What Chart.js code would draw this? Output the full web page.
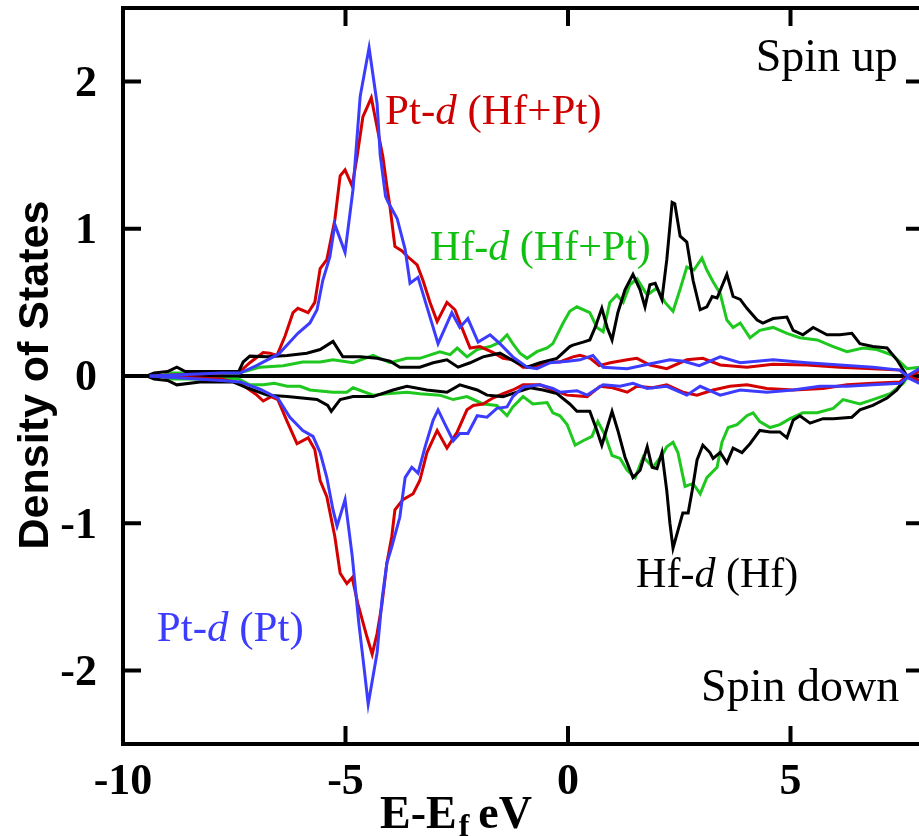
<!DOCTYPE html>
<html>
<head>
<meta charset="utf-8">
<title>Density of States - HfPt</title>
<script src="https://cdn.jsdelivr.net/npm/chart.js@4.4.0/dist/chart.umd.min.js"></script>
<style>
  html, body { margin: 0; padding: 0; background: #fff; overflow: hidden; }
  #wrap { width: 930px; height: 836px; }
</style>
</head>
<body>
<div id="wrap"><canvas id="dosChart" width="930" height="836"></canvas></div>
<script>
'use strict';

// axis ticks
const xTicks = [-10, -5, 0, 5];
const yTicks = [-2, -1, 0, 1, 2];

// [E - Ef (eV), DOS]
const ptdHfPtUp = [[-9.40,0.00],[-7.80,0.02],[-7.37,0.03],[-7.15,0.09],[-6.85,0.16],[-6.70,0.155],[-6.54,0.14],[-6.36,0.27],[-6.18,0.43],[-6.07,0.46],[-5.84,0.43],[-5.69,0.50],[-5.57,0.73],[-5.42,0.79],[-5.24,1.06],[-5.12,1.36],[-5.01,1.40],[-4.85,1.29],[-4.74,1.49],[-4.61,1.76],[-4.42,1.89],[-4.29,1.69],[-4.16,1.49],[-4.07,1.29],[-4.00,1.15],[-3.89,0.88],[-3.73,0.85],[-3.60,0.81],[-3.39,0.755],[-3.26,0.65],[-3.10,0.50],[-2.94,0.37],[-2.72,0.50],[-2.54,0.45],[-2.36,0.31],[-2.20,0.19],[-1.98,0.20],[-1.69,0.16],[-1.46,0.12],[-1.24,0.11],[-1.01,0.06],[-0.79,0.06],[-0.47,0.095],[-0.18,0.095],[0.11,0.13],[0.27,0.14],[0.50,0.12],[0.70,0.07],[0.95,0.09],[1.33,0.11],[1.55,0.12],[1.84,0.075],[2.22,0.05],[2.67,0.11],[3.03,0.12],[3.42,0.075],[4.02,0.06],[4.61,0.08],[5.37,0.075],[6.11,0.06],[6.85,0.05],[7.46,0.04],[7.62,0.00],[7.90,0.03]];
const ptdHfPtDn = [[-9.40,0.00],[-7.80,-0.02],[-7.37,-0.05],[-6.99,-0.13],[-6.85,-0.17],[-6.67,-0.14],[-6.52,-0.16],[-6.31,-0.31],[-6.09,-0.46],[-5.84,-0.42],[-5.69,-0.50],[-5.57,-0.71],[-5.42,-0.82],[-5.24,-1.09],[-5.12,-1.34],[-4.97,-1.41],[-4.85,-1.37],[-4.72,-1.55],[-4.52,-1.77],[-4.40,-1.89],[-4.29,-1.75],[-4.18,-1.55],[-4.07,-1.27],[-3.96,-1.09],[-3.89,-0.91],[-3.71,-0.84],[-3.48,-0.80],[-3.33,-0.71],[-3.17,-0.52],[-2.94,-0.37],[-2.72,-0.49],[-2.49,-0.38],[-2.27,-0.23],[-2.13,-0.20],[-1.91,-0.19],[-1.69,-0.15],[-1.46,-0.12],[-1.24,-0.095],[-1.01,-0.06],[-0.63,-0.06],[-0.34,-0.095],[-0.02,-0.13],[0.43,-0.14],[0.72,-0.07],[1.00,-0.08],[1.33,-0.11],[1.55,-0.07],[1.90,-0.08],[2.22,-0.06],[2.58,-0.11],[2.90,-0.13],[3.26,-0.095],[3.64,-0.07],[4.02,-0.06],[4.47,-0.085],[5.06,-0.095],[5.73,-0.085],[6.27,-0.06],[6.85,-0.05],[7.46,-0.04],[7.62,0.00],[7.90,-0.03]];

const ptdPtUp = [[-9.40,0.00],[-7.80,0.02],[-7.37,0.02],[-7.00,0.07],[-6.50,0.15],[-6.07,0.29],[-5.80,0.36],[-5.64,0.45],[-5.51,0.65],[-5.35,0.81],[-5.24,1.03],[-5.01,0.84],[-4.83,1.27],[-4.67,1.90],[-4.47,2.23],[-4.29,1.85],[-4.22,1.50],[-4.10,1.22],[-4.04,1.18],[-3.84,1.07],[-3.66,0.86],[-3.55,0.63],[-3.37,0.67],[-3.17,0.47],[-2.92,0.22],[-2.61,0.43],[-2.43,0.33],[-2.25,0.39],[-2.02,0.23],[-1.75,0.28],[-1.53,0.22],[-1.24,0.13],[-0.92,0.06],[-0.70,0.05],[-0.40,0.09],[0.00,0.10],[0.27,0.11],[0.56,0.14],[0.79,0.06],[1.33,0.05],[1.80,0.08],[2.29,0.11],[2.60,0.10],[2.95,0.07],[3.42,0.13],[3.87,0.09],[4.61,0.11],[5.37,0.09],[6.11,0.075],[6.85,0.06],[7.46,0.04],[7.62,0.00],[7.90,0.05]];
const ptdPtDn = [[-9.40,0.00],[-7.80,-0.03],[-7.37,-0.04],[-6.92,-0.09],[-6.52,-0.15],[-6.25,-0.28],[-5.96,-0.37],[-5.73,-0.41],[-5.57,-0.52],[-5.42,-0.69],[-5.28,-0.91],[-5.19,-1.02],[-5.01,-0.84],[-4.85,-1.22],[-4.70,-1.68],[-4.58,-1.99],[-4.49,-2.23],[-4.29,-1.88],[-4.18,-1.52],[-4.07,-1.27],[-3.96,-1.16],[-3.78,-0.96],[-3.66,-0.69],[-3.51,-0.62],[-3.37,-0.66],[-3.21,-0.48],[-3.03,-0.30],[-2.92,-0.23],[-2.76,-0.33],[-2.58,-0.44],[-2.43,-0.39],[-2.25,-0.39],[-2.04,-0.27],[-1.82,-0.28],[-1.60,-0.22],[-1.37,-0.21],[-1.24,-0.14],[-1.01,-0.075],[-0.63,-0.06],[-0.34,-0.085],[-0.18,-0.11],[0.20,-0.10],[0.43,-0.13],[0.79,-0.06],[1.17,-0.07],[1.46,-0.05],[1.78,-0.085],[2.22,-0.07],[2.67,-0.13],[2.97,-0.07],[3.42,-0.13],[3.87,-0.095],[4.47,-0.11],[5.06,-0.095],[5.66,-0.07],[6.27,-0.07],[6.85,-0.06],[7.46,-0.05],[7.62,-0.01],[7.90,-0.05]];

const hfdHfPtUp = [[-9.10,0.00],[-9.00,0.02],[-7.40,0.02],[-7.15,0.04],[-6.92,0.06],[-6.40,0.07],[-5.96,0.095],[-5.57,0.095],[-5.28,0.11],[-4.83,0.09],[-4.38,0.14],[-4.00,0.09],[-3.62,0.12],[-3.33,0.12],[-2.88,0.165],[-2.65,0.145],[-2.49,0.19],[-2.27,0.13],[-2.04,0.18],[-1.75,0.20],[-1.53,0.23],[-1.37,0.28],[-1.24,0.22],[-1.08,0.155],[-0.92,0.12],[-0.70,0.165],[-0.47,0.19],[-0.34,0.22],[-0.11,0.36],[0.04,0.44],[0.20,0.47],[0.49,0.43],[0.65,0.33],[0.79,0.30],[0.94,0.50],[1.10,0.55],[1.24,0.50],[1.39,0.62],[1.55,0.66],[1.78,0.55],[2.00,0.60],[2.18,0.50],[2.36,0.44],[2.52,0.59],[2.67,0.74],[2.83,0.72],[3.01,0.80],[3.12,0.72],[3.26,0.64],[3.42,0.56],[3.57,0.38],[3.71,0.33],[3.87,0.36],[4.09,0.26],[4.31,0.31],[4.61,0.33],[4.92,0.29],[5.21,0.26],[5.60,0.245],[5.96,0.20],[6.27,0.165],[6.63,0.19],[6.94,0.18],[7.30,0.14],[7.62,0.05],[7.90,0.06]];
const hfdHfPtDn = [[-9.10,0.00],[-9.00,-0.02],[-7.40,-0.02],[-7.15,-0.06],[-6.85,-0.06],[-6.60,-0.05],[-6.31,-0.07],[-6.02,-0.07],[-5.80,-0.095],[-5.28,-0.11],[-4.97,-0.11],[-4.83,-0.08],[-4.38,-0.13],[-4.07,-0.12],[-3.62,-0.11],[-3.33,-0.12],[-2.88,-0.13],[-2.58,-0.16],[-2.27,-0.14],[-1.91,-0.19],[-1.60,-0.20],[-1.37,-0.27],[-1.24,-0.21],[-1.01,-0.14],[-0.79,-0.19],[-0.47,-0.18],[-0.34,-0.25],[-0.18,-0.27],[-0.02,-0.33],[0.16,-0.47],[0.34,-0.44],[0.54,-0.41],[0.67,-0.31],[0.83,-0.40],[0.99,-0.54],[1.17,-0.56],[1.33,-0.64],[1.51,-0.69],[1.69,-0.55],[1.91,-0.62],[2.11,-0.54],[2.22,-0.48],[2.36,-0.45],[2.47,-0.52],[2.63,-0.75],[2.81,-0.73],[2.97,-0.80],[3.12,-0.69],[3.35,-0.62],[3.46,-0.45],[3.60,-0.35],[3.80,-0.33],[4.02,-0.27],[4.16,-0.25],[4.31,-0.31],[4.54,-0.35],[4.76,-0.33],[4.99,-0.29],[5.28,-0.25],[5.60,-0.25],[5.96,-0.22],[6.18,-0.16],[6.56,-0.19],[6.85,-0.16],[7.24,-0.12],[7.53,-0.05],[7.62,-0.01],[7.90,-0.03]];

const hfdHfUp = [[-9.46,0.00],[-9.30,0.02],[-9.00,0.03],[-8.79,0.06],[-8.60,0.03],[-7.40,0.03],[-7.30,0.095],[-7.15,0.135],[-6.76,0.13],[-6.31,0.14],[-5.87,0.155],[-5.57,0.18],[-5.28,0.235],[-5.06,0.13],[-4.67,0.13],[-4.29,0.12],[-4.00,0.10],[-3.78,0.06],[-3.33,0.06],[-3.03,0.09],[-2.72,0.11],[-2.47,0.06],[-2.20,0.09],[-1.91,0.13],[-1.53,0.155],[-1.15,0.09],[-0.92,0.06],[-0.63,0.09],[-0.25,0.12],[0.04,0.20],[0.11,0.21],[0.34,0.23],[0.49,0.245],[0.61,0.33],[0.76,0.46],[0.88,0.33],[0.99,0.245],[1.12,0.43],[1.28,0.585],[1.46,0.69],[1.62,0.585],[1.73,0.47],[1.84,0.62],[1.96,0.63],[2.11,0.52],[2.22,0.79],[2.34,1.18],[2.40,1.17],[2.52,0.95],[2.67,0.91],[2.81,0.65],[2.97,0.45],[3.12,0.47],[3.24,0.54],[3.35,0.53],[3.57,0.69],[3.71,0.54],[3.87,0.52],[4.02,0.46],[4.25,0.38],[4.38,0.36],[4.61,0.39],[4.92,0.40],[5.06,0.31],[5.28,0.28],[5.51,0.33],[5.82,0.28],[6.11,0.28],[6.38,0.29],[6.56,0.22],[6.85,0.20],[7.17,0.19],[7.39,0.11],[7.62,0.00]];
const hfdHfDn = [[-9.46,0.00],[-9.30,-0.02],[-9.00,-0.03],[-8.79,-0.06],[-8.27,-0.04],[-7.53,-0.04],[-7.21,-0.08],[-6.76,-0.13],[-6.31,-0.14],[-5.64,-0.16],[-5.40,-0.20],[-5.32,-0.24],[-5.12,-0.16],[-4.83,-0.14],[-4.38,-0.14],[-3.93,-0.095],[-3.62,-0.07],[-3.17,-0.095],[-2.72,-0.11],[-2.43,-0.06],[-2.04,-0.095],[-1.82,-0.13],[-1.46,-0.14],[-1.15,-0.11],[-0.85,-0.08],[-0.56,-0.095],[-0.25,-0.12],[0.04,-0.19],[0.20,-0.24],[0.49,-0.24],[0.65,-0.37],[0.76,-0.47],[0.88,-0.35],[0.99,-0.24],[1.12,-0.37],[1.28,-0.55],[1.46,-0.69],[1.62,-0.64],[1.78,-0.48],[1.89,-0.62],[2.00,-0.63],[2.11,-0.52],[2.22,-0.78],[2.29,-1.00],[2.36,-1.17],[2.47,-1.05],[2.58,-0.93],[2.70,-0.93],[2.79,-0.78],[2.90,-0.57],[3.03,-0.47],[3.19,-0.52],[3.26,-0.56],[3.42,-0.52],[3.57,-0.59],[3.71,-0.49],[3.91,-0.52],[4.09,-0.46],[4.31,-0.37],[4.54,-0.38],[4.76,-0.38],[4.92,-0.42],[5.06,-0.30],[5.21,-0.27],[5.44,-0.32],[5.73,-0.29],[5.96,-0.29],[6.38,-0.28],[6.56,-0.23],[6.85,-0.20],[7.17,-0.15],[7.39,-0.095],[7.62,0.00]];

const RED = '#d40000';
const BLUE = '#3c3cff';
const GREEN = '#1ec81e';
const BLACK = '#000000';

const SERIF = '"Liberation Serif", "Times New Roman", serif';
const SANS = '"Liberation Sans", Arial, sans-serif';

// in-plot labels, anchored in data units (left end, baseline)
const annotations = [
  { parts: [['Pt-', 0], ['d', 1], [' (Hf+Pt)', 0]], e: -4.11, dos: 1.714, color: '#cc0000', size: 43 },
  { parts: [['Hf-', 0], ['d', 1], [' (Hf+Pt)', 0]], e: -3.10, dos: 0.789, color: '#10c010', size: 42 },
  { parts: [['Hf-', 0], ['d', 1], [' (Hf)', 0]], e: 1.53, dos: -1.435, color: BLACK, size: 42 },
  { parts: [['Pt-', 0], ['d', 1], [' (Pt)', 0]], e: -9.24, dos: -1.80, color: '#3c3cff', size: 43 },
  { parts: [['Spin up', 0]], e: 4.22, dos: 2.07, color: BLACK, size: 46 },
  { parts: [['Spin down', 0]], e: 2.99, dos: -2.21, color: BLACK, size: 46 }
];

function toXY(arr) {
  return arr.map(p => ({ x: p[0], y: p[1] }));
}

function line(data, color) {
  return {
    data: toXY(data),
    borderColor: color,
    borderWidth: 3,
    pointRadius: 0,
    tension: 0,
    fill: false
  };
}

const framePlugin = {
  id: 'frame',
  beforeDatasetsDraw(chart) {
    const { ctx, chartArea: a, scales: { y } } = chart;
    const y0 = y.getPixelForValue(0);
    ctx.save();
    ctx.strokeStyle = BLACK;
    ctx.lineWidth = 4;
    ctx.beginPath();
    ctx.moveTo(a.left, y0);
    ctx.lineTo(a.right, y0);
    ctx.stroke();
    ctx.restore();
  },
  afterDatasetsDraw(chart) {
    const { ctx, chartArea: a, scales: { x, y } } = chart;
    const len = 18;
    ctx.save();
    ctx.strokeStyle = BLACK;
    ctx.lineWidth = 4;
    ctx.strokeRect(a.left, a.top, a.right - a.left, a.bottom - a.top);
    ctx.beginPath();
    xTicks.forEach(v => {
      if (v <= x.min || v >= x.max) return;
      const px = x.getPixelForValue(v);
      ctx.moveTo(px, a.bottom); ctx.lineTo(px, a.bottom - len);
      ctx.moveTo(px, a.top); ctx.lineTo(px, a.top + len);
    });
    yTicks.forEach(v => {
      if (v === 0) return;
      const py = y.getPixelForValue(v);
      ctx.moveTo(a.left, py); ctx.lineTo(a.left + len, py);
      ctx.moveTo(a.right, py); ctx.lineTo(a.right - len, py);
    });
    ctx.stroke();
    ctx.restore();
  },
  afterDraw(chart) {
    const { ctx, scales: { x, y } } = chart;
    ctx.save();
    ctx.textBaseline = 'alphabetic';
    ctx.textAlign = 'left';

    annotations.forEach(an => {
      let px = x.getPixelForValue(an.e);
      const py = y.getPixelForValue(an.dos);
      ctx.fillStyle = an.color;
      an.parts.forEach(([txt, italic]) => {
        ctx.font = (italic ? 'italic ' : '') + an.size + 'px ' + SERIF;
        ctx.fillText(txt, px, py);
        px += ctx.measureText(txt).width;
      });
    });

    // y axis title
    ctx.fillStyle = BLACK;
    ctx.font = 'bold 43px ' + SANS;
    ctx.save();
    ctx.translate(48, 375);
    ctx.rotate(-Math.PI / 2);
    ctx.textAlign = 'center';
    ctx.fillText('Density of States', 0, 0);
    ctx.restore();

    // x axis title with subscript f
    let tx = 380;
    const base = 828;
    ctx.font = 'bold 46px ' + SERIF;
    ctx.fillText('E-E', tx, base);
    tx += ctx.measureText('E-E').width + 2;
    ctx.font = 'bold 32px ' + SERIF;
    ctx.fillText('f', tx, base + 8);
    tx += ctx.measureText('f').width + 9;
    ctx.font = 'bold 46px ' + SERIF;
    ctx.fillText('eV', tx, base);
    ctx.restore();
  }
};

new Chart(document.getElementById('dosChart'), {
  type: 'line',
  data: {
    datasets: [
      line(ptdPtUp, BLUE),
      line(ptdPtDn, BLUE),
      line(hfdHfUp, BLACK),
      line(hfdHfDn, BLACK),
      line(ptdHfPtUp, RED),
      line(ptdHfPtDn, RED),
      line(hfdHfPtUp, GREEN),
      line(hfdHfPtDn, GREEN)
    ]
  },
  options: {
    responsive: false,
    animation: false,
    devicePixelRatio: 1,
    layout: { padding: { left: 0, right: 6, top: 8, bottom: 0 } },
    plugins: { legend: { display: false }, tooltip: { enabled: false } },
    scales: {
      x: {
        type: 'linear',
        min: -10,
        max: 8,
        afterFit: s => { s.height = 92; s.paddingLeft = 0; s.paddingRight = 0; },
        afterBuildTicks: s => { s.ticks = xTicks.map(v => ({ value: v })); },
        grid: { display: false, drawTicks: false },
        border: { display: false },
        ticks: {
          padding: 12,
          maxRotation: 0,
          color: BLACK,
          font: { family: SERIF, size: 44, weight: 'bold' }
        }
      },
      y: {
        type: 'linear',
        min: -2.5,
        max: 2.5,
        afterFit: s => { s.width = 123; s.paddingTop = 0; s.paddingBottom = 0; },
        afterBuildTicks: s => { s.ticks = yTicks.map(v => ({ value: v })); },
        grid: { display: false, drawTicks: false },
        border: { display: false },
        ticks: {
          padding: 26,
          labelOffset: 3,
          color: BLACK,
          font: { family: SERIF, size: 44, weight: 'bold' }
        }
      }
    }
  },
  plugins: [framePlugin]
});
</script>
</body>
</html>
